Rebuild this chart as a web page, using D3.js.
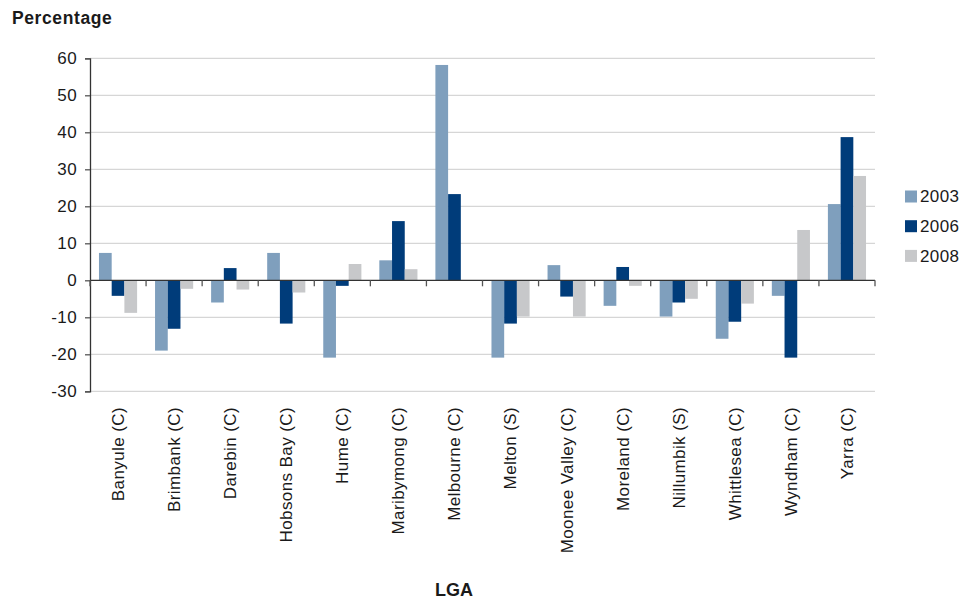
<!DOCTYPE html>
<html>
<head>
<meta charset="utf-8">
<script src="https://cdn.jsdelivr.net/npm/d3@7/dist/d3.min.js"></script>
<style>
  html, body { margin: 0; padding: 0; background: #fff; }
  svg { display: block; font-family: "Liberation Sans", Arial, sans-serif; }
</style>
</head>
<body>
<svg id="chart" width="966" height="600"></svg>
<script>
// Local government areas along the category axis
const categories = [
  "Banyule (C)", "Brimbank (C)", "Darebin (C)", "Hobsons Bay (C)", "Hume (C)",
  "Maribymong (C)", "Melbourne (C)", "Melton (S)", "Moonee Valley (C)",
  "Moreland (C)", "Nillumbik (S)", "Whittlesea (C)", "Wyndham (C)", "Yarra (C)"
];

// Percentage change per LGA, one list per year
const seriesNames = ["2003", "2006", "2008"];
const values2003 = [7.4, -19.0, -6.0, 7.4, -20.9, 5.4, 58.2, -20.9, 4.1, -6.9, -9.8, -15.8, -4.2, 20.6];
const values2006 = [-4.2, -13.1, 3.3, -11.7, -1.5, 16.0, 23.3, -11.7, -4.4, 3.6, -6.0, -11.2, -20.9, 38.7];
const values2008 = [-8.8, -2.3, -2.5, -3.3, 4.4, 3.0, 0, -9.8, -9.8, -1.5, -5.0, -6.3, 13.6, 28.2];

// Value axis ticks
const yTicks = [-30, -20, -10, 0, 10, 20, 30, 40, 50, 60];

const seriesValues = [values2003, values2006, values2008];
const colors = ["#7f9fbd", "#003c7a", "#c7c8ca"];

const svg = d3.select("#chart");
const plot = { left: 90, right: 875, top: 58.3, bottom: 391.3 };

const x = d3.scaleBand()
  .domain(categories)
  .range([plot.left, plot.right])
  .paddingInner(0).paddingOuter(0);

const groupWidth = x.bandwidth() * 0.68;
const xInner = d3.scaleBand()
  .domain(seriesNames)
  .range([(x.bandwidth() - groupWidth) / 2, (x.bandwidth() + groupWidth) / 2]);

const y = d3.scaleLinear()
  .domain([-30, 60])
  .range([plot.bottom, plot.top]);

// Horizontal gridlines
svg.append("g")
  .selectAll("line")
  .data(yTicks.filter(d => d !== 0))
  .join("line")
  .attr("x1", plot.left).attr("x2", plot.right)
  .attr("y1", d => y(d)).attr("y2", d => y(d))
  .attr("stroke", "#d6d6d6").attr("stroke-width", 1.3);

// Bars
const rows = [];
categories.forEach((c, i) => {
  seriesNames.forEach((s, j) => {
    rows.push({ cat: c, series: s, value: seriesValues[j][i], color: colors[j] });
  });
});

svg.append("g")
  .selectAll("rect")
  .data(rows)
  .join("rect")
  .attr("x", d => x(d.cat) + xInner(d.series))
  .attr("width", xInner.bandwidth())
  .attr("y", d => y(Math.max(0, d.value)))
  .attr("height", d => Math.abs(y(d.value) - y(0)))
  .attr("fill", d => d.color);

// Value axis (plain hyphen for negatives)
const yAxis = svg.append("g")
  .attr("transform", `translate(${plot.left},0)`)
  .call(d3.axisLeft(y).tickValues(yTicks).tickSize(5).tickPadding(8).tickFormat(d => String(d)));
yAxis.select(".domain").attr("stroke", "#333").attr("stroke-width", 1.3);
yAxis.selectAll(".tick line").attr("stroke", "#555").attr("stroke-width", 1.3);
yAxis.selectAll(".tick text")
  .attr("fill", "#1a1a1a")
  .style("font-size", "17px")
  .style("letter-spacing", "0.4px");

// Category axis along zero, ticks at band boundaries
const zeroY = y(0);
svg.append("line")
  .attr("x1", plot.left).attr("x2", plot.right)
  .attr("y1", zeroY).attr("y2", zeroY)
  .attr("stroke", "#333").attr("stroke-width", 1.3);

const boundaries = categories.map(c => x(c)).concat([plot.right]);
svg.append("g")
  .selectAll("line")
  .data(boundaries)
  .join("line")
  .attr("x1", d => d).attr("x2", d => d)
  .attr("y1", zeroY).attr("y2", zeroY + 6)
  .attr("stroke", "#555").attr("stroke-width", 1.3);

// Rotated category labels below the plot
svg.append("g")
  .selectAll("text")
  .data(categories)
  .join("text")
  .attr("transform", d => `translate(${x(d) + x.bandwidth() / 2},407) rotate(-90)`)
  .attr("text-anchor", "end")
  .attr("dy", "0.35em")
  .attr("fill", "#1a1a1a")
  .style("font-size", "17px")
  .style("letter-spacing", "0.4px")
  .text(d => d);

// Axis titles
svg.append("text")
  .attr("x", 12).attr("y", 24)
  .attr("font-weight", "bold")
  .attr("fill", "#1a1a1a")
  .style("font-size", "17.5px")
  .style("letter-spacing", "0.6px")
  .text("Percentage");

svg.append("text")
  .attr("x", 454).attr("y", 596)
  .attr("text-anchor", "middle")
  .attr("font-weight", "bold")
  .attr("fill", "#1a1a1a")
  .style("font-size", "18px")
  .text("LGA");

// Legend
const legend = svg.append("g")
  .selectAll("g")
  .data(seriesNames)
  .join("g")
  .attr("transform", (d, i) => `translate(905,${190.5 + i * 29.7})`);
legend.append("rect")
  .attr("width", 12).attr("height", 12)
  .attr("fill", (d, i) => colors[i]);
legend.append("text")
  .attr("x", 15).attr("y", 6)
  .attr("dy", "0.35em")
  .attr("fill", "#1a1a1a")
  .style("font-size", "17px")
  .style("letter-spacing", "0.4px")
  .text(d => d);
</script>
</body>
</html>
